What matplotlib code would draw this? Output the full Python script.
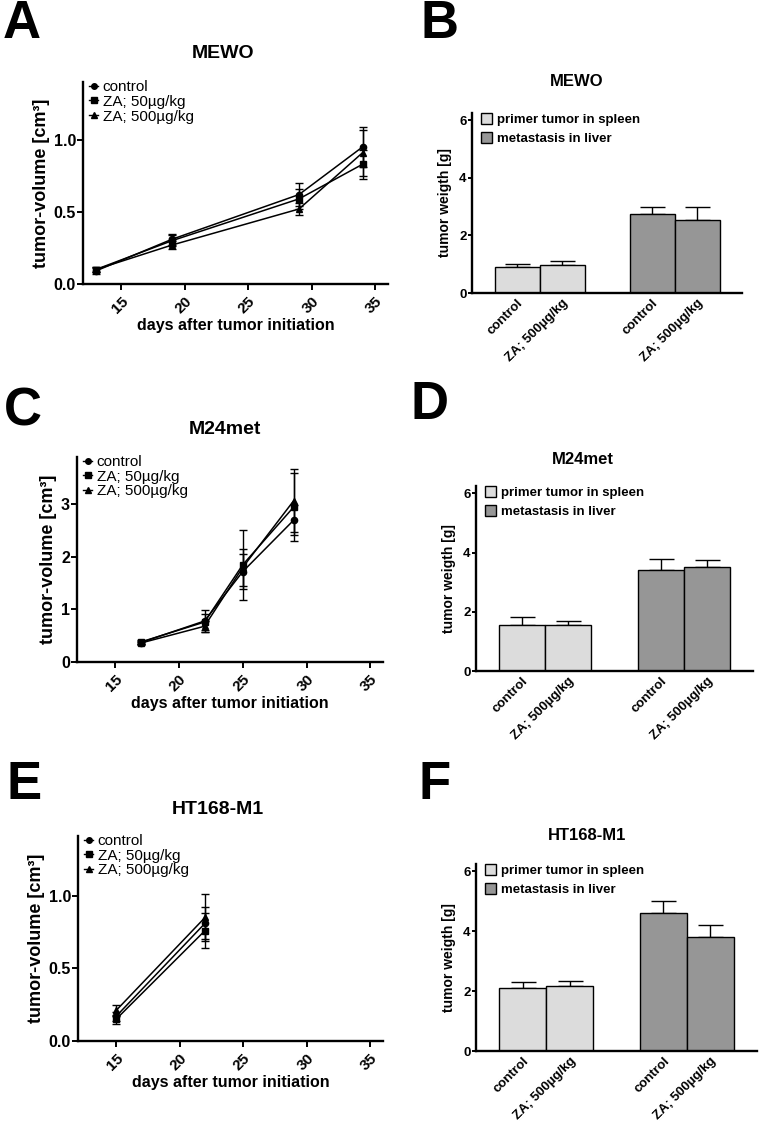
import matplotlib
matplotlib.use("Agg")
import matplotlib.pyplot as plt
from matplotlib.lines import Line2D
import numpy as np

plt.rcParams['font.family'] = ['Liberation Sans', 'DejaVu Sans']

W, H = 759, 1124

# --- growth curves (tumor volume) ---
groups = ["control", "ZA; 50µg/kg", "ZA; 500µg/kg"]
markers = ["o", "s", "^"]

mewo_days = [13, 19, 29, 34]
mewo_mean = {
    "control": [0.09, 0.31, 0.62, 0.95],
    "ZA; 50µg/kg": [0.10, 0.30, 0.59, 0.83],
    "ZA; 500µg/kg": [0.10, 0.27, 0.52, 0.91],
}
mewo_err = {
    "control": [0.02, 0.04, 0.08, 0.14],
    "ZA; 50µg/kg": [0.02, 0.04, 0.07, 0.10],
    "ZA; 500µg/kg": [0.02, 0.03, 0.04, 0.16],
}

m24_days = [17, 22, 25, 29]
m24_mean = {
    "control": [0.37, 0.78, 1.72, 2.70],
    "ZA; 50µg/kg": [0.38, 0.76, 1.85, 2.95],
    "ZA; 500µg/kg": [0.36, 0.68, 1.80, 3.07],
}
m24_err = {
    "control": [0.03, 0.20, 0.33, 0.28],
    "ZA; 50µg/kg": [0.03, 0.15, 0.67, 0.65],
    "ZA; 500µg/kg": [0.03, 0.10, 0.35, 0.60],
}

ht_days = [15, 22]
ht_mean = {
    "control": [0.17, 0.81],
    "ZA; 50µg/kg": [0.15, 0.76],
    "ZA; 500µg/kg": [0.21, 0.85],
}
ht_err = {
    "control": [0.03, 0.11],
    "ZA; 50µg/kg": [0.03, 0.12],
    "ZA; 500µg/kg": [0.04, 0.16],
}

# --- tumor weights (bars) ---
bar_labels = ["control", "ZA; 500µg/kg", "control", "ZA; 500µg/kg"]
bar_legend = ["primer tumor in spleen", "metastasis in liver"]
mewo_w = [0.92, 0.98, 2.73, 2.52]
mewo_w_err = [0.10, 0.13, 0.25, 0.46]
m24_w = [1.57, 1.55, 3.42, 3.52]
m24_w_err = [0.26, 0.13, 0.36, 0.23]
ht_w = [2.12, 2.18, 4.62, 3.82]
ht_w_err = [0.19, 0.15, 0.39, 0.40]


def px_axes(l, t, r, b):
    return fig.add_axes([l / W, 1 - b / H, (r - l) / W, (b - t) / H])


def style_axes(ax, lw=1.7):
    for s in ["top", "right"]:
        ax.spines[s].set_visible(False)
    for s in ["left", "bottom"]:
        ax.spines[s].set_linewidth(lw)
    ax.tick_params(width=1.4, length=4, direction="out")


def growth_plot(ax, days, mean, err, ylim, yticks, yfmt):
    handles = []
    for g, m in zip(groups, markers):
        ax.errorbar(days, mean[g], yerr=err[g], color="black", marker=m,
                    markersize=4.5, lw=1.1, elinewidth=1.0, capsize=3,
                    capthick=1.0)
        handles.append(Line2D([], [], color="black", marker=m, markersize=4,
                              lw=1.0))
    style_axes(ax)
    ax.set_xlim(12, 36)
    ax.set_ylim(*ylim)
    ax.set_xticks([15, 20, 25, 30, 35])
    ax.set_yticks(yticks)
    ax.set_yticklabels([yfmt.format(v) for v in yticks], fontweight="bold",
                       fontsize=11.5)
    ax.tick_params(axis="y", pad=1)
    ax.set_xticklabels(["15", "20", "25", "30", "35"], rotation=45,
                       ha="right", rotation_mode="anchor", fontweight="bold",
                       fontsize=11)
    ax.set_xlabel("days after tumor initiation", fontweight="bold",
                  fontsize=11.5, labelpad=1)
    ax.set_ylabel("tumor-volume [cm³]", fontweight="bold", fontsize=13,
                  labelpad=3)
    ax.legend(handles, groups, loc="upper left",
              bbox_to_anchor=(0.0, 1.04), frameon=False,
              fontsize=11, handlelength=0.6, handletextpad=0.3,
              labelspacing=0.05, borderaxespad=0)


def weight_plot(ax, vals, errs):
    pos = [1, 2, 4, 5]
    cols = ["#dcdcdc", "#dcdcdc", "#969696", "#969696"]
    ax.bar(pos, vals, width=1.0, color=cols, edgecolor="black", lw=1.0,
           zorder=2)
    ax.errorbar(pos, vals, yerr=[np.zeros(4), errs], fmt="none",
                ecolor="black", elinewidth=1.0, capsize=9, capthick=1.0,
                zorder=1)
    style_axes(ax)
    ax.set_xlim(0, 6)
    ax.set_ylim(0, 6.25)
    ax.set_yticks([0, 2, 4, 6])
    ax.set_yticklabels(["0", "2", "4", "6"], fontweight="bold", fontsize=9.5)
    ax.tick_params(axis="y", pad=1, length=3)
    ax.set_xticks(pos)
    ax.set_xticklabels(bar_labels, rotation=45, ha="right",
                       rotation_mode="anchor", fontweight="bold",
                       fontsize=9.5)
    ax.tick_params(axis="x", length=0, pad=3)
    ax.set_ylabel("tumor weigth [g]", fontweight="bold", fontsize=10,
                  labelpad=5)
    h1 = plt.Rectangle((0, 0), 1, 1, fc="#dcdcdc", ec="black", lw=1.0)
    h2 = plt.Rectangle((0, 0), 1, 1, fc="#969696", ec="black", lw=1.0)
    ax.legend([h1, h2], bar_legend, loc="upper left",
              bbox_to_anchor=(0.015, 1.03), frameon=False,
              prop={"weight": "bold", "size": 9.5}, handlelength=0.8,
              handleheight=0.9, handletextpad=0.4, labelspacing=0.45,
              borderaxespad=0)


fig = plt.figure(figsize=(W / 100, H / 100), dpi=100)

axA = px_axes(83, 82, 388, 284)
growth_plot(axA, mewo_days, mewo_mean, mewo_err, (0, 1.4), [0.0, 0.5, 1.0],
            "{:.1f}")
axC = px_axes(77, 457, 383, 662)
growth_plot(axC, m24_days, m24_mean, m24_err, (0, 3.9), [0, 1, 2, 3], "{:d}")
axE = px_axes(78, 836, 383, 1041)
growth_plot(axE, ht_days, ht_mean, ht_err, (0, 1.41), [0.0, 0.5, 1.0],
            "{:.1f}")

axB = px_axes(472, 113, 742, 293)
weight_plot(axB, mewo_w, mewo_w_err)
axD = px_axes(476, 486, 753, 671)
weight_plot(axD, m24_w, m24_w_err)
axF = px_axes(476, 864, 757, 1051)
weight_plot(axF, ht_w, ht_w_err)

# titles
titles = [("MEWO", 223, 54, 14), ("MEWO", 577, 82, 12),
          ("M24met", 225, 430, 14), ("M24met", 583, 460, 12),
          ("HT168-M1", 218, 810, 14), ("HT168-M1", 587, 835, 12)]
for txt, x, y, fs in titles:
    fig.text(x / W, 1 - y / H, txt, ha="center", va="center",
             fontweight="bold", fontsize=fs)

# panel letters
letters = [("A", 3, 24), ("B", 420, 24), ("C", 4, 412), ("D", 411, 405),
           ("E", 6, 785), ("F", 418, 785)]
for txt, x, y in letters:
    fig.text(x / W, 1 - y / H, txt, ha="left", va="center",
             fontweight="bold", fontsize=38)

fig.savefig("out.png", dpi=100)
